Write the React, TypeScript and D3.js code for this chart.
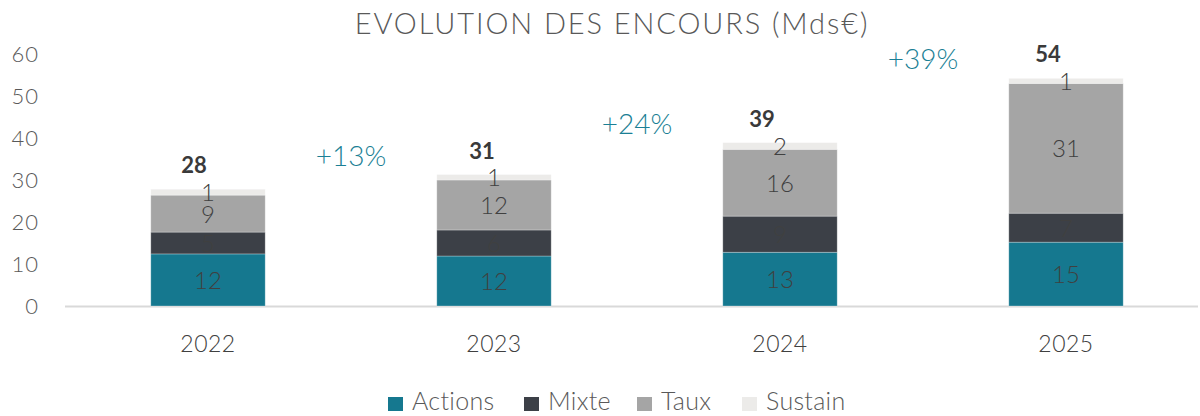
import { useEffect } from 'react';
import * as d3 from 'd3';

const years = ['2022', '2023', '2024', '2025'];
const actions = [12.4, 11.9, 12.8, 15.2];
const mixte = [5.2, 6.2, 8.6, 6.9];
const taux = [8.8, 11.9, 15.9, 30.9];
const sustain = [1.4, 1.3, 1.6, 1.2];
const growth = ['+13%', '+24%', '+39%'];
const yTicks = [0, 10, 20, 30, 40, 50, 60];

const seriesNames = ['Actions', 'Mixte', 'Taux', 'Sustain'];
const seriesColors = ['#15788f', '#3c4047', '#a5a5a5', '#ecebe9'];

const W = 1200;
const H = 416;
const FONT = 'Lato, "Open Sans", sans-serif';

export default function App() {
  useEffect(() => {
    document.body.style.margin = '0';
  }, []);

  const rows = years.map((year, i) => ({
    year,
    Actions: actions[i],
    Mixte: mixte[i],
    Taux: taux[i],
    Sustain: sustain[i],
  }));
  const stacked = d3.stack<any>().keys(seriesNames)(rows);
  const totals = rows.map((r) => r.Actions + r.Mixte + r.Taux + r.Sustain);

  const x = d3.scaleBand().domain(years).range([65, 1209]).paddingInner(0.6).paddingOuter(0.3);
  const y = d3.scaleLinear().domain([0, 60]).range([306, 54]);
  const color = d3.scaleOrdinal<string>().domain(seriesNames).range(seriesColors);
  const bw = x.bandwidth();
  const cx = (yr: string) => (x(yr) as number) + bw / 2;

  const legendX = [388, 524, 637, 742];
  const totalShift = [-14, -12, -18, -18];

  return (
    <svg width={W} height={H} style={{ display: 'block', fontFamily: FONT }}>
      <rect width={W} height={H} fill="#fff" />
      <text x={612} y={34} textAnchor="middle" fontSize={29} fontWeight={300} fill="#595959" letterSpacing={1.9}>
        EVOLUTION DES ENCOURS (Mds€)
      </text>

      {yTicks.map((t) => (
        <text key={t} x={39} y={y(t) + 8} textAnchor="end" fontSize={22} fontWeight={300} fill="#595959" letterSpacing={1}>
          {t}
        </text>
      ))}

      <line x1={65} x2={1198} y1={y(0) + 0.5} y2={y(0) + 0.5} stroke="#d9d9d9" strokeWidth={2} />

      {stacked.map((s) => (
        <g key={s.key} fill={color(s.key)}>
          {s.map((d, i) => (
            <rect
              key={i}
              x={x(years[i])}
              y={y(d[1])}
              width={bw}
              height={y(d[0]) - y(d[1])}
              stroke="#ffffff"
              strokeOpacity={0.35}
              strokeWidth={0.8}
            />
          ))}
        </g>
      ))}

      {stacked.map((s) => (
        <g key={s.key + '-lbl'}>
          {s.map((d, i) => (
            <text
              key={i}
              x={cx(years[i])}
              y={y((d[0] + d[1]) / 2) + 9}
              textAnchor="middle"
              fontSize={24}
              fontWeight={300}
              fill="#404040"
            >
              {Math.round(d[1] - d[0])}
            </text>
          ))}
        </g>
      ))}

      {totals.map((t, i) => (
        <text
          key={i}
          x={cx(years[i]) + totalShift[i]}
          y={y(t) - 16}
          textAnchor="middle"
          fontSize={22}
          fontWeight={700}
          fill="#3a3a3a"
        >
          {Math.round(t)}
        </text>
      ))}

      {growth.map((g, i) => (
        <text
          key={g}
          x={(cx(years[i]) + cx(years[i + 1])) / 2}
          y={y(totals[i + 1]) - 9}
          textAnchor="middle"
          fontSize={28}
          fontWeight={300}
          fill="#1b7f95"
        >
          {g}
        </text>
      ))}

      {years.map((yr) => (
        <text key={yr} x={cx(yr)} y={352} textAnchor="middle" fontSize={23} fontWeight={300} fill="#404040" letterSpacing={0.5}>
          {yr}
        </text>
      ))}

      {seriesNames.map((n, i) => (
        <g key={n} transform={`translate(${legendX[i]},410)`}>
          <rect x={0} y={-13} width={15} height={14} fill={seriesColors[i]} />
          <text x={24} y={0} fontSize={25} fontWeight={300} fill="#595959" letterSpacing={0.3}>
            {n}
          </text>
        </g>
      ))}
    </svg>
  );
}
